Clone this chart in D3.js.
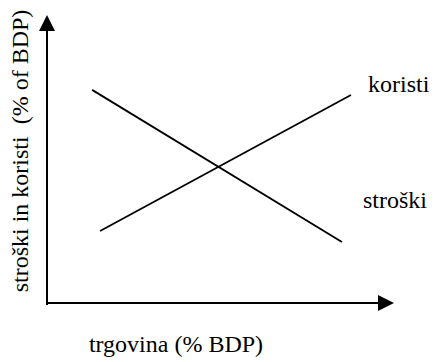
<!DOCTYPE html>
<html>
<head>
<meta charset="utf-8">
<script src="https://cdn.jsdelivr.net/npm/d3@7"></script>
<style>
  @font-face { font-family: "RefSerif"; src: local("Liberation Serif"), local("LiberationSerif"), local("Times New Roman"); }
</style>
</head>
<body style="margin:0">
<div id="chart"></div>
<script>
// Series (schematic, arbitrary % units)
const seriesNames = ["stroški", "koristi"];
const strosekX = [13, 85];
const strosekY = [74, 21.2];
const koristX = [15.3, 87.6];
const koristY = [25, 72.2];
const xAxisLabel = "trgovina (% BDP)";
const yAxisLabel = "stroški in koristi\u00a0 (% of BDP)";

const W = 438, H = 362;
const svg = d3.select("#chart").append("svg").attr("width", W).attr("height", H).style("display", "block");

const x = d3.scaleLinear().domain([0, 100]).range([47, 394]);
const y = d3.scaleLinear().domain([0, 100]).range([303, 15]);

// Axes
const axisW = 2;
svg.append("line").attr("x1", x(0)).attr("x2", x(0)).attr("y1", y(0) + 2).attr("y2", y(100) + 14)
  .attr("stroke", "#000").attr("stroke-width", axisW);
svg.append("line").attr("x1", x(0) - 1).attr("x2", x(100) - 14).attr("y1", y(0)).attr("y2", y(0))
  .attr("stroke", "#000").attr("stroke-width", axisW);
// arrow heads
svg.append("path")
  .attr("d", `M${x(0)},${y(100)} L${x(0) - 8},${y(100) + 16} L${x(0) + 8},${y(100) + 16} Z`)
  .attr("fill", "#000");
svg.append("path")
  .attr("d", `M${x(100)},${y(0)} L${x(100) - 16},${y(0) - 8} L${x(100) - 16},${y(0) + 8} Z`)
  .attr("fill", "#000");

// Lines
const line = d3.line().x(d => x(d[0])).y(d => y(d[1]));
const costs = d3.zip(strosekX, strosekY);
const benefits = d3.zip(koristX, koristY);
svg.append("path").datum(costs).attr("d", line).attr("fill", "none").attr("stroke", "#000").attr("stroke-width", 1.8);
svg.append("path").datum(benefits).attr("d", line).attr("fill", "none").attr("stroke", "#000").attr("stroke-width", 1.8);

// Text labels
const labels = [
  { t: seriesNames[1], x: 368, y: 92, a: "start", r: 0 },
  { t: seriesNames[0], x: 363, y: 208, a: "start", r: 0 },
  { t: xAxisLabel, x: 176, y: 352, a: "middle", r: 0 },
  { t: yAxisLabel, x: 28, y: 151, a: "middle", r: -90 }
];
svg.selectAll("text.lbl").data(labels).join("text")
  .attr("class", "lbl")
  .attr("font-family", "'Liberation Serif', RefSerif, Tinos, 'Nimbus Roman', FreeSerif")
  .attr("font-size", 24)
  .attr("text-anchor", d => d.a)
  .attr("transform", d => `translate(${d.x},${d.y}) rotate(${d.r})`)
  .text(d => d.t);
</script>
</body>
</html>
